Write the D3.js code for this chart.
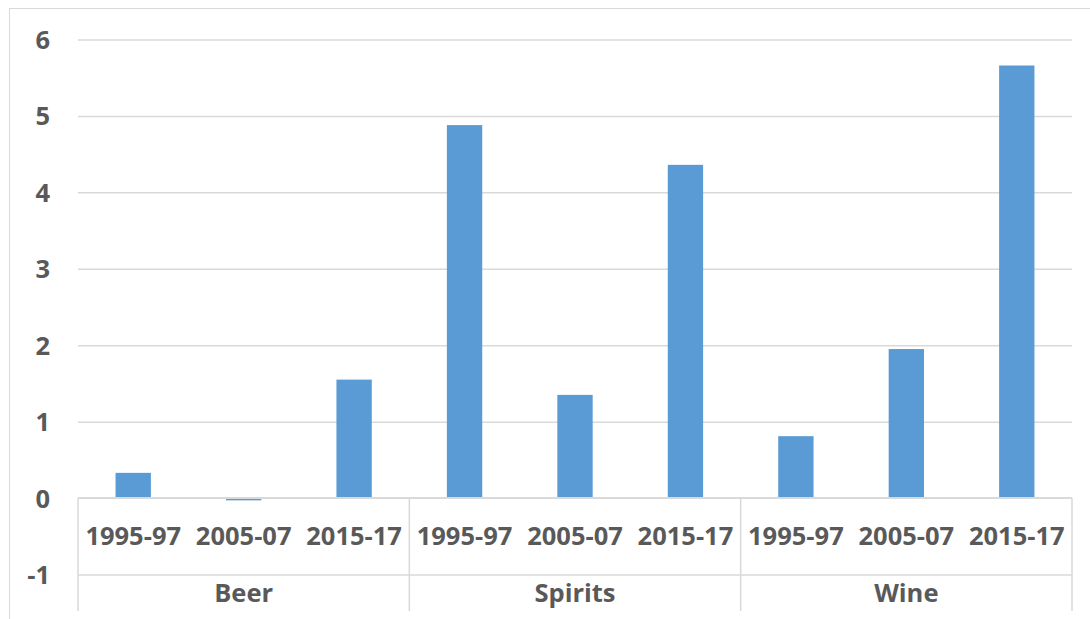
<!DOCTYPE html>
<html>
<head>
<meta charset="utf-8">
<script src="https://cdn.jsdelivr.net/npm/d3@7"></script>
<style>
  body { margin: 0; background: #fff; }
  text { font-family: "Open Sans", "Liberation Sans", sans-serif; font-weight: bold; fill: #595959; }
</style>
</head>
<body>
<div id="chart"></div>
<script>
const groups = ["Beer", "Spirits", "Wine"];
const periods = ["1995-97", "2005-07", "2015-17"];
const beerValues = [0.33, -0.03, 1.55];
const spiritsValues = [4.88, 1.35, 4.36];
const wineValues = [0.81, 1.95, 5.66];
const yTicks = [-1, 0, 1, 2, 3, 4, 5, 6];

const seriesByGroup = {Beer: beerValues, Spirits: spiritsValues, Wine: wineValues};
const rows = [];
groups.forEach(g => periods.forEach((p, i) => rows.push({group: g, period: p, value: seriesByGroup[g][i]})));

const size = {width: 1090, height: 619};
const plot = {left: 78, right: 1072, top: 39.5, bottom: 574.5};
const gridColor = "#d9d9d9";
const fontSize = "25.5px";

const svg = d3.select("#chart").append("svg")
    .attr("width", size.width)
    .attr("height", size.height);

// chart frame (runs past the right/bottom edge like the original)
svg.append("rect")
    .attr("x", 9.5).attr("y", 8.5)
    .attr("width", 1100).attr("height", 700)
    .attr("fill", "none")
    .attr("stroke", gridColor);

const xGroup = d3.scaleBand().domain(groups).range([plot.left, plot.right]);
const xPeriod = d3.scaleBand().domain(periods).range([0, xGroup.bandwidth()]).paddingInner(0.68).paddingOuter(0.34);
const yScale = d3.scaleLinear().domain([-1, 6]).range([plot.bottom, plot.top]);

// gridlines
svg.append("g")
    .attr("class", "gridG")
    .attr("transform", "translate(" + plot.left + ",0)")
    .call(d3.axisLeft(yScale).tickValues(yTicks.filter(t => t != 0)).tickSize(-(plot.right - plot.left)).tickFormat(""))
    .call(g => g.select(".domain").remove())
    .call(g => g.selectAll("line").attr("stroke", gridColor).attr("stroke-width", 1.5));

// y labels
svg.append("g")
    .attr("class", "yAxisG")
    .attr("transform", "translate(50,0)")
    .call(d3.axisLeft(yScale).tickValues(yTicks).tickSize(0).tickPadding(0).tickFormat(d => String(d)))
    .call(g => g.select(".domain").remove())
    .call(g => g.selectAll("text").style("font-size", fontSize).attr("fill", "#595959").attr("dy", "0.35em"));

// bars
svg.selectAll(".barRect")
    .data(rows)
    .join("rect")
    .attr("class", "barRect")
    .attr("fill", "#5b9bd5")
    .attr("x", d => xGroup(d.group) + xPeriod(d.period))
    .attr("width", xPeriod.bandwidth())
    .attr("y", d => yScale(Math.max(0, d.value)))
    .attr("height", d => Math.abs(yScale(0) - yScale(d.value)));

// category axis
const axisG = svg.append("g").attr("class", "xAxisG");
axisG.append("line")
    .attr("x1", plot.left).attr("x2", plot.right)
    .attr("y1", yScale(0)).attr("y2", yScale(0))
    .attr("stroke", gridColor).attr("stroke-width", 2);

const sepBottom = 611;
const boundaries = groups.map(g => xGroup(g)).concat([plot.right]);
axisG.selectAll(".sepLine")
    .data(boundaries)
    .join("line")
    .attr("class", "sepLine")
    .attr("x1", d => d).attr("x2", d => d)
    .attr("y1", yScale(0)).attr("y2", sepBottom)
    .attr("stroke", gridColor).attr("stroke-width", 1.5);

axisG.selectAll(".periodLabel")
    .data(rows)
    .join("text")
    .attr("class", "periodLabel")
    .attr("x", d => xGroup(d.group) + xPeriod(d.period) + xPeriod.bandwidth() / 2)
    .attr("y", (yScale(0) + yScale(-1)) / 2)
    .attr("dy", "0.35em")
    .attr("text-anchor", "middle")
    .style("font-size", fontSize)
    .text(d => d.period);

axisG.selectAll(".groupLabel")
    .data(groups)
    .join("text")
    .attr("class", "groupLabel")
    .attr("x", d => xGroup(d) + xGroup.bandwidth() / 2)
    .attr("y", 593)
    .attr("dy", "0.35em")
    .attr("text-anchor", "middle")
    .style("font-size", fontSize)
    .text(d => d);
</script>
</body>
</html>
